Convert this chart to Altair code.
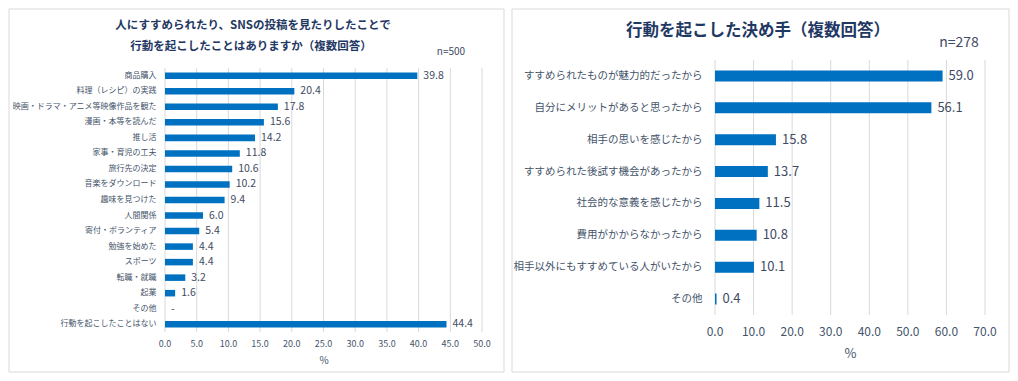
import altair as alt
import pandas as pd

# ---- data ----
left_title_1 = "人にすすめられたり、SNSの投稿を見たりしたことで"
left_title_2 = "行動を起こしたことはありますか（複数回答）"
left_n = "n=500"
left_cats = ["商品購入", "料理（レシピ）の実践", "映画・ドラマ・アニメ等映像作品を観た", "漫画・本等を読んだ",
             "推し活", "家事・育児の工夫", "旅行先の決定", "音楽をダウンロード", "趣味を見つけた", "人間関係",
             "寄付・ボランティア", "勉強を始めた", "スポーツ", "転職・就職", "起業", "その他", "行動を起こしたことはない"]
left_vals = [39.8, 20.4, 17.8, 15.6, 14.2, 11.8, 10.6, 10.2, 9.4, 6.0, 5.4, 4.4, 4.4, 3.2, 1.6, 0.0, 44.4]
left_labels = ["39.8", "20.4", "17.8", "15.6", "14.2", "11.8", "10.6", "10.2", "9.4", "6.0", "5.4", "4.4",
               "4.4", "3.2", "1.6", "-", "44.4"]
left_ticks = [0, 5, 10, 15, 20, 25, 30, 35, 40, 45, 50]
left_tick_labels = ["0.0", "5.0", "10.0", "15.0", "20.0", "25.0", "30.0", "35.0", "40.0", "45.0", "50.0"]

right_title = "行動を起こした決め手（複数回答）"
right_n = "n=278"
right_cats = ["すすめられたものが魅力的だったから", "自分にメリットがあると思ったから", "相手の思いを感じたから",
              "すすめられた後試す機会があったから", "社会的な意義を感じたから", "費用がかからなかったから",
              "相手以外にもすすめている人がいたから", "その他"]
right_vals = [59.0, 56.1, 15.8, 13.7, 11.5, 10.8, 10.1, 0.4]
right_labels = ["59.0", "56.1", "15.8", "13.7", "11.5", "10.8", "10.1", "0.4"]
right_ticks = [0, 10, 20, 30, 40, 50, 60, 70]
right_tick_labels = ["0.0", "10.0", "20.0", "30.0", "40.0", "50.0", "60.0", "70.0"]

FONT = "Noto Sans CJK JP"
BAR = "#0070C0"
LABEL = "#44546A"
VALUE = "#3F4B63"
TITLE = "#1F3864"
GRID = "#D9D9D9"


def one(text):
    return alt.Chart(pd.DataFrame({"t": [text]}))


def panel(cats, vals, labels, ticks, tick_labels, xmax, w, h, yrange, pin, fs_y, pad_y,
          fs_x, tick_y, fs_t, pad_t, fs_v, border, texts):
    df = pd.DataFrame({"cat": cats, "val": vals, "lab": labels})
    base = alt.Chart(df)
    xscale = alt.Scale(domain=[0, xmax], nice=False, zero=True)

    def xaxis():
        return alt.Axis(values=ticks, labels=False, title="%", grid=False,
                        domain=False, ticks=False, tickSize=0,
                        titleFont=FONT, titleFontSize=fs_t, titleColor=LABEL,
                        titleFontWeight="normal", titlePadding=pad_t)

    y = alt.Y("cat:N", sort=cats,
              scale=alt.Scale(paddingInner=pin, paddingOuter=pin / 2, range=yrange),
              axis=alt.Axis(title=None, ticks=False, tickSize=0, domain=False, grid=False,
                            labelFont=FONT, labelFontSize=fs_y, labelColor=LABEL,
                            labelPadding=pad_y, labelLimit=400))
    tdf = alt.Chart(pd.DataFrame({"g": ticks, "gl": tick_labels}))
    grid = tdf.mark_rule(color=GRID, strokeWidth=1).encode(
        x=alt.X("g:Q", scale=xscale, axis=xaxis()),
        y=alt.value(yrange[0]), y2=alt.value(yrange[1]))
    tlabels = tdf.mark_text(align="center", baseline="middle", font=FONT, fontSize=fs_x,
                            color=LABEL).encode(
        x=alt.X("g:Q", scale=xscale, axis=xaxis()), y=alt.value(tick_y), text="gl:N")
    bars = base.mark_bar(color=BAR).encode(x=alt.X("val:Q", scale=xscale, axis=xaxis()), y=y)
    vtext = base.mark_text(align="left", baseline="middle", dx=6, font=FONT, fontSize=fs_v,
                           color=VALUE).encode(x=alt.X("val:Q", scale=xscale, axis=xaxis()),
                                               y=alt.Y("cat:N", sort=cats), text="lab:N")
    bx1, bx2, by1, by2 = border
    frame = one("").mark_rect(fill="white", fillOpacity=0, stroke=GRID, strokeWidth=1).encode(
        x=alt.value(bx1), x2=alt.value(bx2), y=alt.value(by1), y2=alt.value(by2))
    layers = [frame, grid, tlabels, bars, vtext]
    for (t, tx, ty, fs, bold, col) in texts:
        layers.append(one(t).mark_text(align="center", baseline="middle", font=FONT, fontSize=fs,
                                       fontWeight="bold" if bold else "normal", color=col).encode(
            x=alt.value(tx), y=alt.value(ty), text="t:N"))
    return alt.layer(*layers).properties(width=w, height=h)


left = panel(left_cats, left_vals, left_labels, left_ticks, left_tick_labels, 50, 317, 272, [8, 272],
             0.58, 8, 9, 9, 284, 10, 23, 10.5,
             (-156, 339, -51, 312),
             [(left_title_1, 88, -34, 11.5, True, TITLE),
              (left_title_2, 86, -13, 11.5, True, TITLE),
              (left_n, 286, -8, 10, False, VALUE)])

right = panel(right_cats, right_vals, right_labels, right_ticks, right_tick_labels, 70, 270, 255,
              [0, 255], 0.655, 10.5, 13, 12, 272, 13, 32, 13,
              (-203, 294, -51, 312),
              [(right_title, 43, -29, 16.5, True, TITLE),
               (right_n, 244, -17, 14, False, VALUE)])

chart = alt.hconcat(left, right, spacing=6).properties(padding=0).configure_view(stroke=None)

chart.save("out.html", embed_options={"renderer": "svg", "actions": False})
